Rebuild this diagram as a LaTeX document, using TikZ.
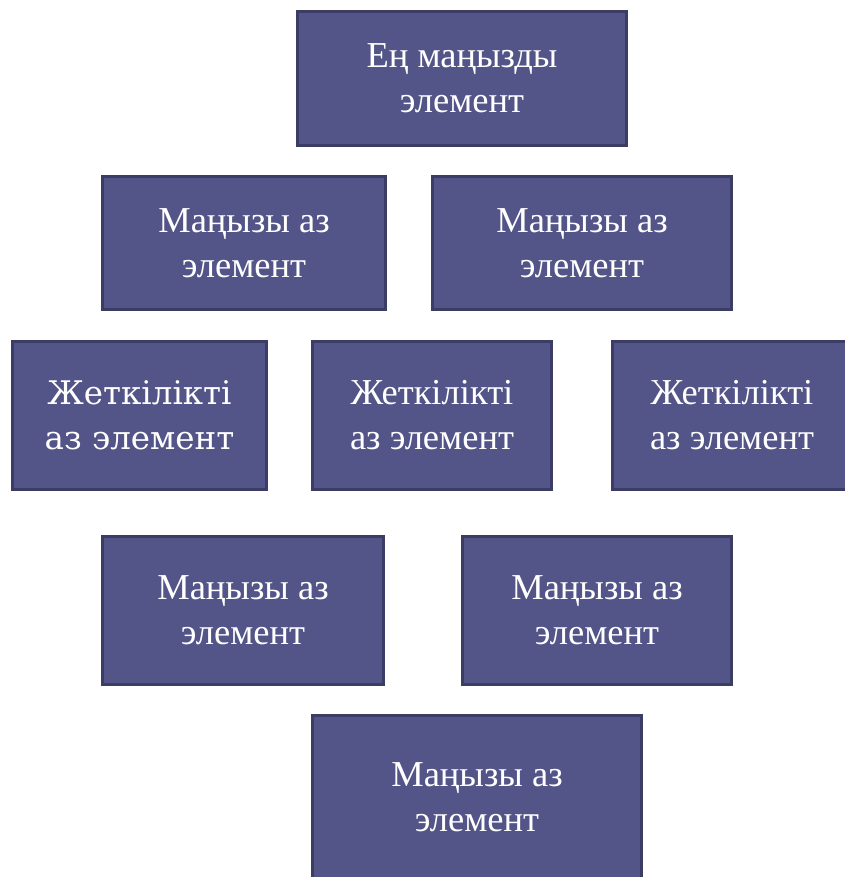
\documentclass[tikz,border=0pt]{standalone}
\usepackage{fontspec}
\setmainfont{Liberation Serif}
\newfontfamily\altserif{DejaVu Serif}
\definecolor{elemfill}{RGB}{83,84,135}
\definecolor{elemborder}{RGB}{59,61,100}
\usetikzlibrary{positioning}

\begin{document}
\begin{tikzpicture}[
  x=1pt, y=-1pt,
  elem/.style={draw=elemborder, line width=3pt, fill=elemfill, text=white,
    align=center, inner sep=0pt, font=\fontsize{36.5}{45}\selectfont},
]
\useasboundingbox (0,0) rectangle (844,877);

% --- top ---
\node[elem, minimum width=329pt, minimum height=134pt] (top) at (462,78.5)
  {Ең маңызды\\элемент};

% --- second row ---
\node[elem, minimum width=283pt, minimum height=133pt] (leftA) at (244,243)
  {Маңызы аз\\элемент};
\node[elem, minimum width=299pt, minimum height=133pt] (rightA) at (582,243)
  {Маңызы аз\\элемент};

% --- middle row ---
\node[elem, minimum width=254pt, minimum height=148pt,
  font=\altserif\fontsize{32.5}{45}\selectfont] (suffL) at (139.5,415.5)
  {Жеткілікті\\аз элемент};
\node[elem, minimum width=239pt, minimum height=148pt] (suffM) at (432,415.5)
  {Жеткілікті\\аз элемент};
\node[elem, minimum width=239pt, minimum height=148pt] (suffR) at (732,415.5)
  {Жеткілікті\\аз элемент};

% --- fourth row ---
\node[elem, minimum width=281pt, minimum height=148pt] (leftB) at (243,610.5)
  {Маңызы аз\\элемент};
\node[elem, minimum width=269pt, minimum height=148pt] (rightB) at (597,610.5)
  {Маңызы аз\\элемент};

% --- bottom ---
\node[elem, minimum width=329pt, minimum height=163pt] (bottom) at (477,797)
  {Маңызы аз\\элемент};

\end{tikzpicture}
\end{document}
